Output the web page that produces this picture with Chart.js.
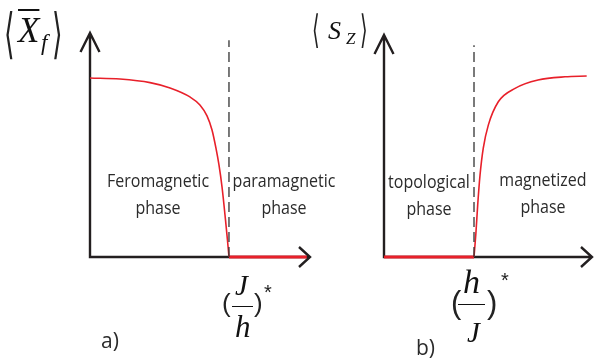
<!DOCTYPE html>
<html>
<head>
<meta charset="utf-8">
<script src="https://cdn.jsdelivr.net/npm/chart.js@4.4.1/dist/chart.umd.min.js"></script>
<style>
body { margin: 0; background: #fff; }
#wrap { position: relative; width: 595px; height: 362px; overflow: hidden; }
#wrap canvas { position: absolute; left: 0; top: 0; }
.phase { position: absolute; font-family: "Open Sans", sans-serif; font-size: 18px; line-height: 27px; color: #2b2b2b; text-align: center; white-space: nowrap; transform: translateX(-50%) scaleX(0.89); }
.tag { position: absolute; font-family: "Open Sans", sans-serif; font-size: 21px; line-height: 1; color: #2b2b2b; }
.g { position: absolute; line-height: 1; white-space: nowrap; color: #111; }
.serif { font-family: "Liberation Serif", serif; font-style: italic; }
.br { font-family: "DejaVu Sans", sans-serif; transform: scaleX(0.5); transform-origin: left top; color: #222; }
.paren { font-family: "Liberation Sans", sans-serif; color: #222; }
.bar { position: absolute; border-top: 1.5px solid #111; height: 0; }
</style>
</head>
<body>
<div id="wrap">
  <canvas id="chartA" width="595" height="362"></canvas>
  <canvas id="chartB" width="595" height="362"></canvas>

  <!-- etiqueta eje y, panel a -->
  <span class="g br" style="left:4px; top:7px; font-size:54px;">⟨</span>
  <span class="g serif" style="left:18px; top:13px; font-size:35px; text-decoration: overline; text-decoration-thickness: 1.5px;">X</span>
  <span class="g serif" style="left:41px; top:31px; font-size:23px;">f</span>
  <span class="g br" style="left:52px; top:7px; font-size:54px;">⟩</span>

  <!-- etiqueta eje y, panel b -->
  <span class="g br" style="left:312px; top:10px; font-size:39px;">⟨</span>
  <span class="g serif" style="left:328px; top:18px; font-size:26px;">S</span>
  <span class="g serif" style="left:346px; top:30px; font-size:17px;">Z</span>
  <span class="g br" style="left:360px; top:10px; font-size:39px;">⟩</span>

  <div class="phase" style="left:158px; top:167px;">Feromagnetic<br>phase</div>
  <div class="phase" style="left:284px; top:167px;">paramagnetic<br>phase</div>
  <div class="phase" style="left:429px; top:168px;">topological<br>phase</div>
  <div class="phase" style="left:543px; top:166px;">magnetized<br>phase</div>

  <!-- (J/h)* -->
  <span class="g paren" style="left:222px; top:290px; font-size:26px;">(</span>
  <span class="g serif" style="left:235px; top:271px; font-size:29px;">J</span>
  <div class="bar" style="left:232px; top:306px; width:21px;"></div>
  <span class="g serif" style="left:235px; top:311px; font-size:31px;">h</span>
  <span class="g paren" style="left:254px; top:290px; font-size:26px;">)</span>
  <span class="g paren" style="left:264px; top:282px; font-size:20px;">*</span>

  <!-- (h/J)* -->
  <span class="g paren" style="left:451px; top:287px; font-size:31px;">(</span>
  <span class="g serif" style="left:463px; top:265px; font-size:34px;">h</span>
  <div class="bar" style="left:458px; top:304px; width:27px;"></div>
  <span class="g serif" style="left:467px; top:318px; font-size:29px;">J</span>
  <span class="g paren" style="left:487px; top:287px; font-size:31px;">)</span>
  <span class="g paren" style="left:501px; top:270px; font-size:20px;">*</span>

  <div class="tag" style="left:101px; top:330px;">a)</div>
  <div class="tag" style="left:416px; top:337px;">b)</div>
</div>

<script>
// panel a: <X_f> frente a (J/h), punto critico en 1
const curveAx = [0, 0.216, 0.432, 0.576, 0.719, 0.791, 0.842, 0.878, 0.906, 0.928, 0.950, 0.975, 0.989, 1];
const curveAy = [1, 0.994, 0.974, 0.944, 0.894, 0.849, 0.788, 0.709, 0.609, 0.514, 0.391, 0.207, 0.095, 0];
const flatAx = [1, 1.56];
const flatAy = [0, 0];
const critAx = [1, 1];
const critAy = [0, 1.21];

// panel b: <S_z> frente a (h/J), punto critico en 1
const curveBx = [1, 1.022, 1.041, 1.067, 1.103, 1.159, 1.270, 1.456, 1.711, 2.011, 2.252];
const curveBy = [0, 0.138, 0.287, 0.453, 0.602, 0.729, 0.858, 0.932, 0.978, 0.996, 1];
const flatBx = [0, 1];
const flatBy = [0, 0];
const critBx = [1, 1];
const critBy = [0, 1.17];

const red = "#e8202a";
const axisColor = "#231f20";

function pts(xs, ys) {
    return xs.map((x, i) => ({ x: x, y: ys[i] }));
}

// ejes con flecha, dibujados sobre las escalas
const arrowAxes = {
    id: "arrowAxes",
    beforeDatasetsDraw(chart) {
        const ctx = chart.ctx;
        const area = chart.chartArea;
        const x0 = chart.scales.x.getPixelForValue(0);
        const y0 = chart.scales.y.getPixelForValue(0);
        ctx.save();
        ctx.strokeStyle = axisColor;
        ctx.lineWidth = 2.4;
        ctx.beginPath();
        ctx.moveTo(x0, y0);
        ctx.lineTo(x0, area.top);
        ctx.moveTo(x0 - 9.5, area.top + 19);
        ctx.lineTo(x0, area.top);
        ctx.lineTo(x0 + 9.5, area.top + 19);
        ctx.moveTo(x0 - 1.2, y0);
        ctx.lineTo(area.right, y0);
        ctx.moveTo(area.right - 11, y0 - 10);
        ctx.lineTo(area.right, y0);
        ctx.lineTo(area.right - 11, y0 + 10);
        ctx.stroke();
        ctx.restore();
    }
};

function makeChart(id, curve, flat, crit, xMax, yMax, padding) {
    return new Chart(document.getElementById(id), {
        type: "scatter",
        data: {
            datasets: [
                {
                    data: crit,
                    showLine: true,
                    borderColor: "#333",
                    borderWidth: 1.3,
                    borderDash: [10, 5],
                    pointRadius: 0
                },
                {
                    data: curve,
                    showLine: true,
                    borderColor: red,
                    borderWidth: 1.6,
                    cubicInterpolationMode: "monotone",
                    pointRadius: 0
                },
                {
                    data: flat,
                    showLine: true,
                    borderColor: red,
                    borderWidth: 3,
                    pointRadius: 0
                }
            ]
        },
        options: {
            responsive: false,
            animation: false,
            clip: false,
            layout: { padding: padding },
            plugins: {
                legend: { display: false },
                tooltip: { enabled: false }
            },
            scales: {
                x: { type: "linear", min: 0, max: xMax, display: false },
                y: { type: "linear", min: 0, max: yMax, display: false }
            }
        },
        plugins: [arrowAxes]
    });
}

makeChart("chartA", pts(curveAx, curveAy), pts(flatAx, flatAy), pts(critAx, critAy),
    1.583, 1.251, { left: 90, top: 33, right: 285, bottom: 105 });
makeChart("chartB", pts(curveBx, curveBy), pts(flatBx, flatBy), pts(critBx, critBy),
    2.311, 1.227, { left: 384, top: 35, right: 3, bottom: 105 });
</script>
</body>
</html>
